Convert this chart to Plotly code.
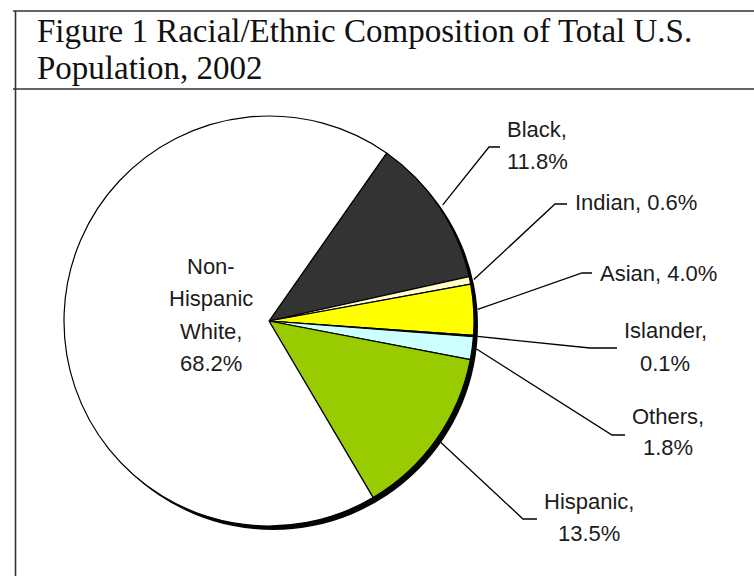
import numpy as np
import plotly.graph_objects as go

W, H = 754, 576

# ---- data -------------------------------------------------------------
groups = ["Black", "Indian", "Asian", "Islander", "Others", "Hispanic", "Non-Hispanic White"]
shares = [11.8, 0.6, 4.0, 0.1, 1.8, 13.5, 68.2]
colors = ["#333333", "#ffffcc", "#ffff00", "#333366", "#ccffff", "#99cc00", "#ffffff"]

# label text; the share value is appended to the last line of each label
label_parts = [
    ["Black,", ""],
    ["Indian, "],
    ["Asian, "],
    ["Islander,", ""],
    ["Others,", ""],
    ["Hispanic,", ""],
    ["Non-", "Hispanic", "White,", ""],
]

title_lines = ["Figure 1 Racial/Ethnic Composition of Total U.S.", "Population, 2002"]

# ---- layout (pixel units, y downwards) ----------------------------------
CX, CY, R = 269.0, 321.0, 205.0      # pie centre and radius
START = 35.0                          # first slice starts this many degrees clockwise from 12 o'clock
SHADOW = 4.0                          # drop-shadow offset

# label placement: (text x, first line y, xanchor, line step) and leader elbow (x, y, end x)
label_pos = [
    (537, 129, "center", 32.0),
    (573, 202, "left", 32.0),
    (598, 273, "left", 32.0),
    (665, 330, "center", 33.0),
    (668, 416, "center", 31.5),
    (589, 501, "center", 32.0),
    (211, 266, "center", 32.6),
]
elbows = [(489, 147, 500), (555, 204, 567), (582, 273, 592),
          (590, 348, 617), (612, 435, 625), (523, 519, 537), None]


def dom(cx, cy, r):
    return dict(x=[(cx - r) / W, (cx + r) / W], y=[1 - (cy + r) / H, 1 - (cy - r) / H])


fig = go.Figure()

# drop shadow behind the pie
fig.add_trace(go.Pie(values=[1], marker=dict(colors=["#050505"], line=dict(width=0)),
                     domain=dom(CX + SHADOW, CY + SHADOW, R), textinfo="none",
                     hoverinfo="skip", showlegend=False, sort=False))

fig.add_trace(go.Pie(labels=groups, values=shares, sort=False, direction="clockwise",
                     rotation=START, domain=dom(CX, CY, R),
                     marker=dict(colors=colors, line=dict(color="#000000", width=1.2)),
                     textinfo="none", hoverinfo="label+percent", showlegend=False))

# leader lines from each slice's mid-angle to its label
total = sum(shares)
cum = 0.0
annotations = []
for name, v, parts, pos, elb in zip(groups, shares, label_parts, label_pos, elbows):
    mid = START + (cum + v / 2) / total * 360.0
    cum += v
    if elb is not None:
        a = np.deg2rad(mid)
        rr = R + 4
        x0, y0 = CX + rr * np.sin(a), CY - rr * np.cos(a)
        ex, ey, endx = elb
        fig.add_trace(go.Scatter(x=[x0, ex, endx], y=[y0, ey, ey], mode="lines",
                                 line=dict(color="#000000", width=1.3),
                                 hoverinfo="skip", showlegend=False))
    lines = list(parts)
    lines[-1] = lines[-1] + f"{v:.1f}%"
    tx, ty, anchor, step = pos
    for i, s in enumerate(lines):
        annotations.append(dict(x=tx, y=ty + i * step, xref="x", yref="y", text=s,
                                showarrow=False, xanchor=anchor, yanchor="middle",
                                font=dict(family="Liberation Sans, Arial, sans-serif",
                                          size=22, color="#1c1c1c")))

# title
for i, s in enumerate(title_lines):
    annotations.append(dict(x=35, y=31 + i * 37, xref="x", yref="y", text=s,
                            showarrow=False, xanchor="left", yanchor="middle",
                            font=dict(family="Liberation Serif, Times New Roman, serif",
                                      size=33, color="#111111")))

frame = dict(color="#333333", width=1.6)
shapes = [
    dict(type="line", xref="x", yref="y", x0=13, x1=W, y0=11, y1=11, line=frame),
    dict(type="line", xref="x", yref="y", x0=13, x1=W, y0=89, y1=89, line=frame),
    dict(type="line", xref="x", yref="y", x0=15.5, x1=15.5, y0=11, y1=H, line=frame),
]

fig.update_layout(
    width=W, height=H, margin=dict(l=0, r=0, t=0, b=0),
    paper_bgcolor="#ffffff", plot_bgcolor="rgba(0,0,0,0)",
    xaxis=dict(range=[0, W], visible=False, fixedrange=True, domain=[0, 1]),
    yaxis=dict(range=[H, 0], visible=False, fixedrange=True, domain=[0, 1]),
    annotations=annotations, shapes=shapes, showlegend=False,
)

fig.write_html("out.html")
